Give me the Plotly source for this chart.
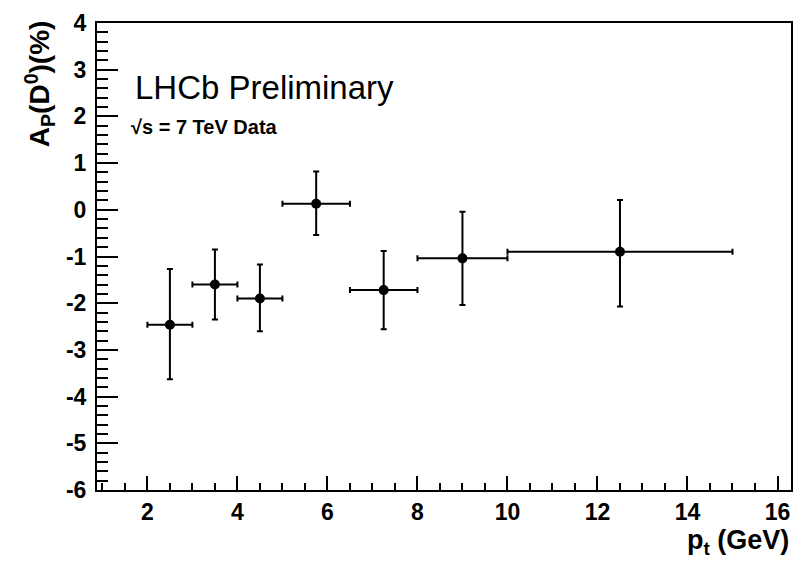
import plotly.graph_objects as go

# Data
pt = [2.5, 3.5, 4.5, 5.75, 7.25, 9.0, 12.5]
pt_err = [0.5, 0.5, 0.5, 0.75, 0.75, 1.0, 2.5]
asym = [-2.46, -1.6, -1.9, 0.13, -1.72, -1.04, -0.9]
asym_err_up = [1.19, 0.75, 0.73, 0.69, 0.84, 1.0, 1.11]
asym_err_dn = [1.17, 0.75, 0.7, 0.67, 0.84, 1.0, 1.17]

x_ticks = [2, 4, 6, 8, 10, 12, 14, 16]
y_ticks = [-6, -5, -4, -3, -2, -1, 0, 1, 2, 3, 4]

FONT = "Liberation Sans, Arial, Helvetica, sans-serif"

fig = go.Figure()
fig.add_trace(go.Scatter(
    x=pt, y=asym, mode="markers",
    marker=dict(color="black", size=10),
    error_x=dict(type="data", array=pt_err, color="black", thickness=2, width=3),
    error_y=dict(type="data", array=asym_err_up, arrayminus=asym_err_dn,
                 symmetric=False, color="black", thickness=2, width=3),
    showlegend=False,
))

fig.update_layout(
    width=803, height=564,
    margin=dict(l=97, r=10, t=19, b=74),
    plot_bgcolor="white", paper_bgcolor="white",
    font=dict(family=FONT, color="black"),
    xaxis=dict(
        range=[0.88, 16.3], tickvals=x_ticks, ticktext=[str(v) for v in x_ticks],
        ticks="inside", ticklen=14, tickwidth=2, tickcolor="black",
        minor=dict(dtick=0.5, tick0=0, ticks="inside", ticklen=7, tickwidth=2, tickcolor="black"),
        showline=True, linecolor="black", linewidth=2, mirror=True,
        showgrid=False, zeroline=False,
        tickfont=dict(size=23, weight="bold", family=FONT),
    ),
    yaxis=dict(
        range=[-6, 4], tickvals=y_ticks, ticktext=[str(v) for v in y_ticks],
        ticks="inside", ticklen=21, tickwidth=2, tickcolor="black",
        minor=dict(dtick=0.2, tick0=0, ticks="inside", ticklen=11, tickwidth=2, tickcolor="black"),
        showline=True, linecolor="black", linewidth=2, mirror=True,
        showgrid=False, zeroline=False, ticklabelstandoff=4,
        tickfont=dict(size=23, weight="bold", family=FONT),
    ),
)

fig.add_annotation(
    xref="paper", yref="paper", x=-0.083, y=1.01, xanchor="center", yanchor="top",
    text="A<sub>P</sub>(D<sup>0</sup>)(%)", textangle=-90, showarrow=False,
    font=dict(size=28, weight="bold", family=FONT),
)
fig.add_annotation(
    xref="paper", yref="paper", x=1.0, y=-0.112, xanchor="right", yanchor="middle",
    text="p<sub>t</sub> (GeV)", showarrow=False,
    font=dict(size=27, weight="bold", family=FONT),
)
fig.add_annotation(
    xref="paper", yref="paper", x=0.052, y=0.862, xanchor="left", yanchor="middle",
    text="LHCb Preliminary", showarrow=False,
    font=dict(size=33, family=FONT),
)
fig.add_annotation(
    xref="paper", yref="paper", x=0.046, y=0.777, xanchor="left", yanchor="middle",
    text="\u221As = 7 TeV Data", showarrow=False,
    font=dict(size=20, weight="bold", family=FONT),
)

fig.write_html("out.html")
